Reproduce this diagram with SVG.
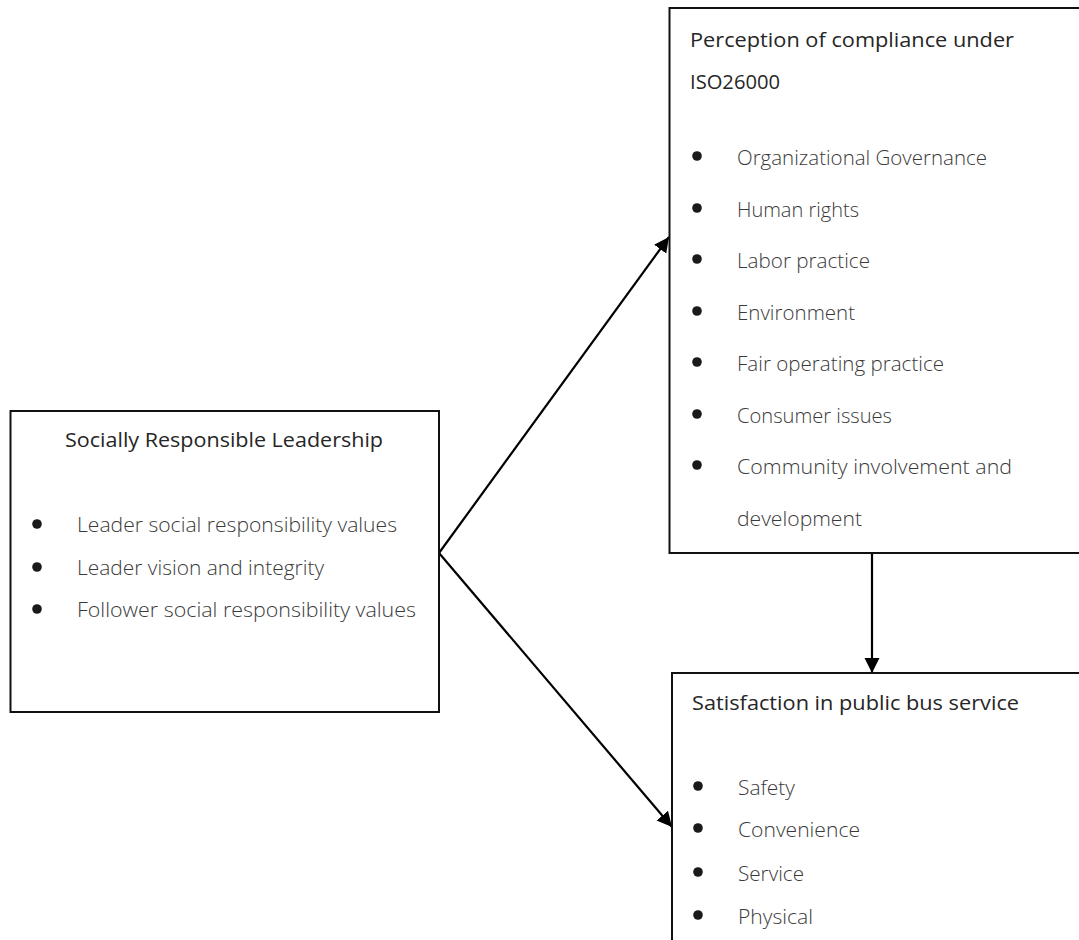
<svg xmlns="http://www.w3.org/2000/svg" width="1079" height="940" viewBox="0 0 1079 940">
<style>
.box{fill:#fff;stroke:#111;stroke-width:2}
.title{font-family:"Open Sans","Noto Sans",sans-serif;font-size:20px;font-weight:500;fill:#262626}
.item{font-family:"Open Sans","Noto Sans",sans-serif;font-size:21px;font-weight:300;fill:#3a3a3a}
.bul{fill:#1a1a1a}
.conn{stroke:#000;stroke-width:2.2;fill:none}
</style>
<defs>
<marker id="ah" markerUnits="userSpaceOnUse" markerWidth="16" markerHeight="16" viewBox="0 0 16 16" refX="15" refY="8" orient="auto">
<path d="M0,0.5 L15,8 L0,15.5 z" fill="#000"/>
</marker>
</defs>
<rect width="1079" height="940" fill="#fff"/>
<g id="connectors">
<line class="conn" x1="439" y1="553" x2="669" y2="237" marker-end="url(#ah)"/>
<line class="conn" x1="439" y1="553" x2="672" y2="827" marker-end="url(#ah)"/>
<line class="conn" x1="872" y1="553" x2="872" y2="673" marker-end="url(#ah)"/>
</g>
<g id="leadership">
<rect class="box" x="10.5" y="411" width="428.5" height="301"/>
<text class="title" x="65" y="447" textLength="318" lengthAdjust="spacingAndGlyphs">Socially Responsible Leadership</text>
<circle class="bul" cx="37" cy="524" r="4.8"/>
<text class="item" x="77" y="532" textLength="320" lengthAdjust="spacingAndGlyphs">Leader social responsibility values</text>
<circle class="bul" cx="37" cy="567" r="4.8"/>
<text class="item" x="77" y="575" textLength="247" lengthAdjust="spacingAndGlyphs">Leader vision and integrity</text>
<circle class="bul" cx="37" cy="609" r="4.8"/>
<text class="item" x="77" y="617" textLength="339" lengthAdjust="spacingAndGlyphs">Follower social responsibility values</text>
</g>
<g id="iso26000">
<rect class="box" x="669.5" y="8" width="420" height="545"/>
<text class="title" x="690" y="47" textLength="324" lengthAdjust="spacingAndGlyphs">Perception of compliance under</text>
<text class="title" x="690" y="89" textLength="90" lengthAdjust="spacingAndGlyphs">ISO26000</text>
<circle class="bul" cx="697" cy="156" r="4.8"/>
<text class="item" x="737" y="165" textLength="250" lengthAdjust="spacingAndGlyphs">Organizational Governance</text>
<circle class="bul" cx="697" cy="208" r="4.8"/>
<text class="item" x="737" y="217" textLength="122" lengthAdjust="spacingAndGlyphs">Human rights</text>
<circle class="bul" cx="697" cy="259" r="4.8"/>
<text class="item" x="737" y="268" textLength="133" lengthAdjust="spacingAndGlyphs">Labor practice</text>
<circle class="bul" cx="697" cy="311" r="4.8"/>
<text class="item" x="737" y="320" textLength="118" lengthAdjust="spacingAndGlyphs">Environment</text>
<circle class="bul" cx="697" cy="362" r="4.8"/>
<text class="item" x="737" y="371" textLength="207" lengthAdjust="spacingAndGlyphs">Fair operating practice</text>
<circle class="bul" cx="697" cy="414" r="4.8"/>
<text class="item" x="737" y="423" textLength="155" lengthAdjust="spacingAndGlyphs">Consumer issues</text>
<circle class="bul" cx="697" cy="465" r="4.8"/>
<text class="item" x="737" y="474" textLength="275" lengthAdjust="spacingAndGlyphs">Community involvement and</text>
<text class="item" x="737" y="526" textLength="125" lengthAdjust="spacingAndGlyphs">development</text>
</g>
<g id="satisfaction">
<rect class="box" x="672" y="673" width="420" height="300"/>
<text class="title" x="692" y="710" textLength="327" lengthAdjust="spacingAndGlyphs">Satisfaction in public bus service</text>
<circle class="bul" cx="698" cy="786" r="4.8"/>
<text class="item" x="738" y="795" textLength="57" lengthAdjust="spacingAndGlyphs">Safety</text>
<circle class="bul" cx="698" cy="828" r="4.8"/>
<text class="item" x="738" y="837" textLength="122" lengthAdjust="spacingAndGlyphs">Convenience</text>
<circle class="bul" cx="698" cy="872" r="4.8"/>
<text class="item" x="738" y="881" textLength="66" lengthAdjust="spacingAndGlyphs">Service</text>
<circle class="bul" cx="698" cy="915" r="4.8"/>
<text class="item" x="738" y="924" textLength="75" lengthAdjust="spacingAndGlyphs">Physical</text>
</g>
</svg>
